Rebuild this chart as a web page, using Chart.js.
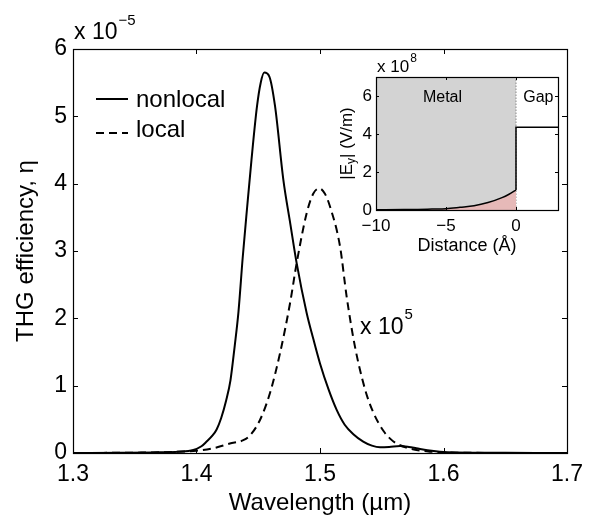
<!DOCTYPE html>
<html>
<head>
<meta charset="utf-8">
<script src="https://cdn.jsdelivr.net/npm/chart.js@4.4.1/dist/chart.umd.min.js"></script>
<style>
  html, body { margin: 0; padding: 0; background: #fff; }
  #wrap { position: relative; width: 594px; height: 518px; }
  #main { position: absolute; left: 0; top: 0; }
  #inset { position: absolute; left: 320px; top: 45px; }
</style>
</head>
<body>
<div id="wrap">
  <canvas id="main" width="594" height="518"></canvas>
  <canvas id="inset" width="270" height="215"></canvas>
</div>
<script>
const FONT = "'Liberation Sans', Arial, Helvetica, sans-serif";

// main plot: THG efficiency (x 1e-5) vs wavelength (um)
const nonlocalWl = [1.30, 1.34, 1.37, 1.385, 1.3974, 1.404, 1.4082, 1.413, 1.4163, 1.420, 1.424, 1.4275, 1.431, 1.434, 1.4374, 1.441, 1.4445, 1.449, 1.452, 1.4549, 1.459, 1.4636, 1.4703, 1.476, 1.4811, 1.4892, 1.4945, 1.500, 1.507, 1.5135, 1.520, 1.527, 1.535, 1.542, 1.5486, 1.556, 1.5648, 1.572, 1.578, 1.587, 1.597, 1.61, 1.65, 1.70];
const nonlocalEta = [0, 0.003, 0.01, 0.02, 0.045, 0.10, 0.17, 0.26, 0.35, 0.52, 0.78, 1.08, 1.6, 2.1, 2.9, 3.65, 4.35, 5.15, 5.5, 5.65, 5.59, 5.15, 4.06, 3.4, 2.82, 2.08, 1.7, 1.33, 0.94, 0.64, 0.42, 0.28, 0.17, 0.11, 0.085, 0.09, 0.104, 0.09, 0.07, 0.04, 0.018, 0.006, 0.002, 0];
const localWl = [1.30, 1.35, 1.38, 1.40, 1.4136, 1.427, 1.4379, 1.4433, 1.4514, 1.4595, 1.4676, 1.4757, 1.4811, 1.4892, 1.4945, 1.4994, 1.504, 1.5081, 1.5162, 1.5216, 1.5283, 1.5364, 1.5432, 1.5513, 1.557, 1.562, 1.570, 1.578, 1.589, 1.60, 1.65, 1.70];
const localEta = [0, 0.005, 0.015, 0.034, 0.07, 0.14, 0.19, 0.26, 0.49, 0.89, 1.48, 2.22, 2.82, 3.56, 3.85, 3.93, 3.85, 3.66, 3.07, 2.32, 1.58, 0.95, 0.6, 0.33, 0.21, 0.14, 0.08, 0.045, 0.02, 0.008, 0.001, 0];
const xTicks = [1.3, 1.4, 1.5, 1.6, 1.7];
const yTicks = [0, 1, 2, 3, 4, 5, 6];

// inset: |Ey| (x 1e8 V/m) vs distance (A)
const metalDist = [-10, 0];
const metalTop = [7, 7];
const insetDist = [-10, -8, -7, -6, -5, -4, -3, -2, -1, -0.5, 0];
const insetField = [0.007, 0.02, 0.03, 0.05, 0.07, 0.14, 0.22, 0.39, 0.65, 0.83, 1.05];
const gapDist = [0, 0, 3];
const gapField = [1.05, 4.35, 4.35];
const insetXTicks = [-10, -5, 0];
const insetYTicks = [0, 2, 4, 6];

const pts = (xs, ys) => xs.map((x, i) => ({ x: x, y: ys[i] }));
const minus = v => String(v).replace('-', '\u2212');

// box round the plot with ticks pointing inwards on all four sides
function boxTicks(len) {
  return {
    id: 'boxTicks',
    afterDatasetsDraw(chart) {
      const { ctx, chartArea: a, scales: { x, y } } = chart;
      ctx.save();
      ctx.strokeStyle = '#000';
      ctx.lineWidth = 1;
      ctx.beginPath();
      x.ticks.forEach(t => {
        const px = Math.round(x.getPixelForValue(t.value)) + 0.5;
        ctx.moveTo(px, a.bottom); ctx.lineTo(px, a.bottom - len);
        ctx.moveTo(px, a.top); ctx.lineTo(px, a.top + len);
      });
      y.ticks.forEach(t => {
        const py = Math.round(y.getPixelForValue(t.value)) + 0.5;
        ctx.moveTo(a.left, py); ctx.lineTo(a.left + len, py);
        ctx.moveTo(a.right, py); ctx.lineTo(a.right - len, py);
      });
      ctx.stroke();
      ctx.lineWidth = 1.2;
      ctx.strokeRect(Math.round(a.left) + 0.5, Math.round(a.top) + 0.5, Math.round(a.width), Math.round(a.height));
      ctx.restore();
    }
  };
}

function supText(ctx, x, y, base, exp, size, supSize, dy) {
  ctx.textAlign = 'left';
  ctx.textBaseline = 'middle';
  ctx.font = size + 'px ' + FONT;
  ctx.fillText(base, x, y);
  const w = ctx.measureText(base).width;
  ctx.font = supSize + 'px ' + FONT;
  ctx.fillText(exp, x + w + 1, y - dy);
}

const mainText = {
  id: 'mainText',
  afterDraw(chart) {
    const ctx = chart.ctx;
    ctx.save();
    ctx.fillStyle = '#000';
    supText(ctx, 74, 33, 'x 10', '\u22125', 23, 15, 12);
    supText(ctx, 360, 328, 'x 10', '5', 23, 15, 13);
    // legend
    const rows = [{ y: 99, ty: 100 }, { y: 133, ty: 130 }];
    chart.data.datasets.forEach((ds, i) => {
      ctx.strokeStyle = ds.borderColor;
      ctx.lineWidth = ds.borderWidth;
      ctx.setLineDash(ds.borderDash || []);
      ctx.beginPath();
      ctx.moveTo(96, rows[i].y);
      ctx.lineTo(128, rows[i].y);
      ctx.stroke();
      ctx.setLineDash([]);
      ctx.font = '24px ' + FONT;
      ctx.textBaseline = 'middle';
      ctx.fillText(ds.label, 136, rows[i].ty);
    });
    ctx.restore();
  }
};

new Chart(document.getElementById('main'), {
  type: 'line',
  data: {
    datasets: [
      { label: 'nonlocal', data: pts(nonlocalWl, nonlocalEta), borderColor: '#000', borderWidth: 2, pointRadius: 0, cubicInterpolationMode: 'monotone' },
      { label: 'local', data: pts(localWl, localEta), borderColor: '#000', borderWidth: 2, borderDash: [8, 5], pointRadius: 0, cubicInterpolationMode: 'monotone' }
    ]
  },
  options: {
    responsive: false,
    animation: false,
    layout: { padding: { left: 0, top: 49, right: 27, bottom: 0 } },
    plugins: { legend: { display: false }, tooltip: { enabled: false } },
    scales: {
      x: {
        type: 'linear', min: 1.3, max: 1.7,
        afterBuildTicks: s => { s.ticks = xTicks.map(v => ({ value: v })); },
        afterFit: s => { s.height = 65; },
        grid: { display: false, drawTicks: false },
        border: { display: false },
        ticks: { color: '#000', font: { family: FONT, size: 23 }, padding: 8, autoSkip: false, maxRotation: 0, callback: v => v.toFixed(1) },
        title: { display: true, text: 'Wavelength (\u00b5m)', color: '#000', font: { family: FONT, size: 24 }, padding: { top: 0, bottom: 0 } }
      },
      y: {
        type: 'linear', min: 0, max: 6,
        afterBuildTicks: s => { s.ticks = yTicks.map(v => ({ value: v })); },
        afterFit: s => { s.width = 73; },
        grid: { display: false, drawTicks: false },
        border: { display: false },
        ticks: { color: '#000', font: { family: FONT, size: 23 }, padding: 6, autoSkip: false },
        title: { display: true, text: 'THG efficiency, \u03b7', color: '#000', font: { family: FONT, size: 24 }, padding: { top: 12, bottom: 0 } }
      }
    }
  },
  plugins: [boxTicks(5), mainText]
});

const insetText = {
  id: 'insetText',
  beforeDatasetsDraw(chart) {
    const { ctx, chartArea: a } = chart;
    ctx.save();
    ctx.fillStyle = '#fff';
    ctx.fillRect(a.left, a.top, a.width, a.height);
    ctx.restore();
  },
  afterDraw(chart) {
    const { ctx, scales: { x, y } } = chart;
    ctx.save();
    ctx.fillStyle = '#000';
    ctx.font = '16px ' + FONT;
    ctx.textAlign = 'center';
    ctx.textBaseline = 'middle';
    ctx.fillText('Metal', x.getPixelForValue(-5.25), y.getPixelForValue(5.9));
    ctx.fillText('Gap', x.getPixelForValue(1.6), y.getPixelForValue(5.9));
    supText(ctx, 57, 22, 'x 10', '8', 17, 12, 8);
    // y title with subscript
    ctx.translate(27, (chart.chartArea.top + chart.chartArea.bottom) / 2);
    ctx.rotate(-Math.PI / 2);
    const parts = [['|E', 17, 0], ['y', 12, 5], ['| (V/m)', 17, 0]];
    let total = 0;
    parts.forEach(p => { ctx.font = p[1] + 'px ' + FONT; total += ctx.measureText(p[0]).width; });
    let cx = -total / 2;
    ctx.textAlign = 'left';
    parts.forEach(p => {
      ctx.font = p[1] + 'px ' + FONT;
      ctx.fillText(p[0], cx, p[2]);
      cx += ctx.measureText(p[0]).width;
    });
    ctx.restore();
  }
};

new Chart(document.getElementById('inset'), {
  type: 'line',
  data: {
    datasets: [
      { label: 'metal', data: pts(metalDist, metalTop), borderWidth: 0, pointRadius: 0, fill: 'origin', backgroundColor: '#d3d3d3', order: 4 },
      { label: 'boundary', data: pts([0, 0], [0, 7]), borderColor: '#888', borderWidth: 1, borderDash: [1.5, 1.5], pointRadius: 0, order: 3 },
      { label: 'field', data: pts(insetDist, insetField), borderColor: '#000', borderWidth: 1.5, pointRadius: 0, fill: 'origin', backgroundColor: '#e6b9b8', cubicInterpolationMode: 'monotone', order: 2 },
      { label: 'gap', data: pts(gapDist, gapField), borderColor: '#000', borderWidth: 1.5, pointRadius: 0, tension: 0, order: 1 }
    ]
  },
  options: {
    responsive: false,
    animation: false,
    layout: { padding: { left: 0, top: 32, right: 32, bottom: 0 } },
    plugins: { legend: { display: false }, tooltip: { enabled: false } },
    scales: {
      x: {
        type: 'linear', min: -10, max: 3,
        afterBuildTicks: s => { s.ticks = insetXTicks.map(v => ({ value: v })); },
        afterFit: s => { s.height = 50; },
        grid: { display: false, drawTicks: false },
        border: { display: false },
        ticks: { color: '#000', font: { family: FONT, size: 17 }, padding: 6, autoSkip: false, maxRotation: 0, callback: v => minus(v) },
        title: { display: true, text: 'Distance (\u00c5)', color: '#000', font: { family: FONT, size: 18 }, padding: { top: 3, bottom: 3 } }
      },
      y: {
        type: 'linear', min: 0, max: 7,
        afterBuildTicks: s => { s.ticks = insetYTicks.map(v => ({ value: v })); },
        afterFit: s => { s.width = 56; },
        grid: { display: false, drawTicks: false },
        border: { display: false },
        ticks: { color: '#000', font: { family: FONT, size: 17 }, padding: 4, autoSkip: false }
      }
    }
  },
  plugins: [boxTicks(3), insetText]
});
</script>
</body>
</html>
